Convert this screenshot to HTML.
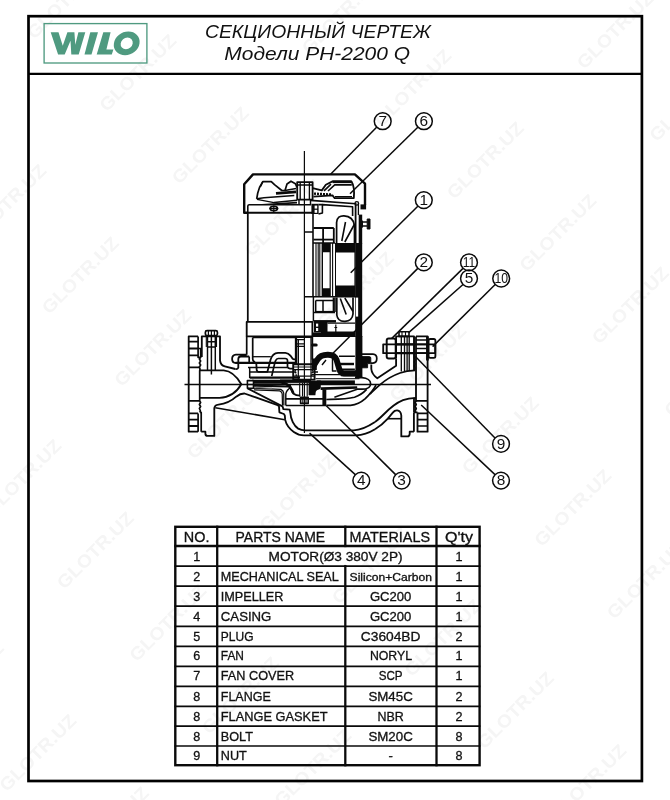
<!DOCTYPE html>
<html><head><meta charset="utf-8">
<style>
html,body{margin:0;padding:0;background:#fff;}
body{width:670px;height:800px;position:relative;overflow:hidden;font-family:"Liberation Sans",sans-serif;}
svg{position:absolute;left:0;top:0;}
svg text{font-family:"Liberation Sans",sans-serif;}
</style></head><body>
<svg width="670" height="800" viewBox="0 0 670 800" style="opacity:0.9999;will-change:transform">
<rect width="670" height="800" fill="#fff"/>
<g fill="#f5f5f5" font-weight="bold" font-size="18" text-anchor="middle" font-family="Liberation Sans, sans-serif">
<text transform="translate(65.0,0.0) rotate(-45)" x="0" y="6.4" textLength="100" lengthAdjust="spacingAndGlyphs">GLOTR.UZ</text>
<text transform="translate(267.5,-57.5) rotate(-45)" x="0" y="6.4" textLength="100" lengthAdjust="spacingAndGlyphs">GLOTR.UZ</text>
<text transform="translate(137.5,72.5) rotate(-45)" x="0" y="6.4" textLength="100" lengthAdjust="spacingAndGlyphs">GLOTR.UZ</text>
<text transform="translate(7.5,202.5) rotate(-45)" x="0" y="6.4" textLength="100" lengthAdjust="spacingAndGlyphs">GLOTR.UZ</text>
<text transform="translate(340.0,15.0) rotate(-45)" x="0" y="6.4" textLength="100" lengthAdjust="spacingAndGlyphs">GLOTR.UZ</text>
<text transform="translate(210.0,145.0) rotate(-45)" x="0" y="6.4" textLength="100" lengthAdjust="spacingAndGlyphs">GLOTR.UZ</text>
<text transform="translate(80.0,275.0) rotate(-45)" x="0" y="6.4" textLength="100" lengthAdjust="spacingAndGlyphs">GLOTR.UZ</text>
<text transform="translate(-50.0,405.0) rotate(-45)" x="0" y="6.4" textLength="100" lengthAdjust="spacingAndGlyphs">GLOTR.UZ</text>
<text transform="translate(542.5,-42.5) rotate(-45)" x="0" y="6.4" textLength="100" lengthAdjust="spacingAndGlyphs">GLOTR.UZ</text>
<text transform="translate(412.5,87.5) rotate(-45)" x="0" y="6.4" textLength="100" lengthAdjust="spacingAndGlyphs">GLOTR.UZ</text>
<text transform="translate(282.5,217.5) rotate(-45)" x="0" y="6.4" textLength="100" lengthAdjust="spacingAndGlyphs">GLOTR.UZ</text>
<text transform="translate(152.5,347.5) rotate(-45)" x="0" y="6.4" textLength="100" lengthAdjust="spacingAndGlyphs">GLOTR.UZ</text>
<text transform="translate(22.5,477.5) rotate(-45)" x="0" y="6.4" textLength="100" lengthAdjust="spacingAndGlyphs">GLOTR.UZ</text>
<text transform="translate(615.0,30.0) rotate(-45)" x="0" y="6.4" textLength="100" lengthAdjust="spacingAndGlyphs">GLOTR.UZ</text>
<text transform="translate(485.0,160.0) rotate(-45)" x="0" y="6.4" textLength="100" lengthAdjust="spacingAndGlyphs">GLOTR.UZ</text>
<text transform="translate(355.0,290.0) rotate(-45)" x="0" y="6.4" textLength="100" lengthAdjust="spacingAndGlyphs">GLOTR.UZ</text>
<text transform="translate(225.0,420.0) rotate(-45)" x="0" y="6.4" textLength="100" lengthAdjust="spacingAndGlyphs">GLOTR.UZ</text>
<text transform="translate(95.0,550.0) rotate(-45)" x="0" y="6.4" textLength="100" lengthAdjust="spacingAndGlyphs">GLOTR.UZ</text>
<text transform="translate(-35.0,680.0) rotate(-45)" x="0" y="6.4" textLength="100" lengthAdjust="spacingAndGlyphs">GLOTR.UZ</text>
<text transform="translate(687.5,102.5) rotate(-45)" x="0" y="6.4" textLength="100" lengthAdjust="spacingAndGlyphs">GLOTR.UZ</text>
<text transform="translate(557.5,232.5) rotate(-45)" x="0" y="6.4" textLength="100" lengthAdjust="spacingAndGlyphs">GLOTR.UZ</text>
<text transform="translate(427.5,362.5) rotate(-45)" x="0" y="6.4" textLength="100" lengthAdjust="spacingAndGlyphs">GLOTR.UZ</text>
<text transform="translate(297.5,492.5) rotate(-45)" x="0" y="6.4" textLength="100" lengthAdjust="spacingAndGlyphs">GLOTR.UZ</text>
<text transform="translate(167.5,622.5) rotate(-45)" x="0" y="6.4" textLength="100" lengthAdjust="spacingAndGlyphs">GLOTR.UZ</text>
<text transform="translate(37.5,752.5) rotate(-45)" x="0" y="6.4" textLength="100" lengthAdjust="spacingAndGlyphs">GLOTR.UZ</text>
<text transform="translate(630.0,305.0) rotate(-45)" x="0" y="6.4" textLength="100" lengthAdjust="spacingAndGlyphs">GLOTR.UZ</text>
<text transform="translate(500.0,435.0) rotate(-45)" x="0" y="6.4" textLength="100" lengthAdjust="spacingAndGlyphs">GLOTR.UZ</text>
<text transform="translate(370.0,565.0) rotate(-45)" x="0" y="6.4" textLength="100" lengthAdjust="spacingAndGlyphs">GLOTR.UZ</text>
<text transform="translate(240.0,695.0) rotate(-45)" x="0" y="6.4" textLength="100" lengthAdjust="spacingAndGlyphs">GLOTR.UZ</text>
<text transform="translate(110.0,825.0) rotate(-45)" x="0" y="6.4" textLength="100" lengthAdjust="spacingAndGlyphs">GLOTR.UZ</text>
<text transform="translate(702.5,377.5) rotate(-45)" x="0" y="6.4" textLength="100" lengthAdjust="spacingAndGlyphs">GLOTR.UZ</text>
<text transform="translate(572.5,507.5) rotate(-45)" x="0" y="6.4" textLength="100" lengthAdjust="spacingAndGlyphs">GLOTR.UZ</text>
<text transform="translate(442.5,637.5) rotate(-45)" x="0" y="6.4" textLength="100" lengthAdjust="spacingAndGlyphs">GLOTR.UZ</text>
<text transform="translate(312.5,767.5) rotate(-45)" x="0" y="6.4" textLength="100" lengthAdjust="spacingAndGlyphs">GLOTR.UZ</text>
<text transform="translate(645.0,580.0) rotate(-45)" x="0" y="6.4" textLength="100" lengthAdjust="spacingAndGlyphs">GLOTR.UZ</text>
<text transform="translate(515.0,710.0) rotate(-45)" x="0" y="6.4" textLength="100" lengthAdjust="spacingAndGlyphs">GLOTR.UZ</text>
<text transform="translate(385.0,840.0) rotate(-45)" x="0" y="6.4" textLength="100" lengthAdjust="spacingAndGlyphs">GLOTR.UZ</text>
<text transform="translate(717.5,652.5) rotate(-45)" x="0" y="6.4" textLength="100" lengthAdjust="spacingAndGlyphs">GLOTR.UZ</text>
<text transform="translate(587.5,782.5) rotate(-45)" x="0" y="6.4" textLength="100" lengthAdjust="spacingAndGlyphs">GLOTR.UZ</text>
<text transform="translate(660.0,855.0) rotate(-45)" x="0" y="6.4" textLength="100" lengthAdjust="spacingAndGlyphs">GLOTR.UZ</text>
</g>
<!-- frame -->
<g fill="none" stroke="#000">
<rect x="28.5" y="16.2" width="613.4" height="764.8" stroke-width="2.7"/>
<line x1="28.5" y1="73.9" x2="641.9" y2="73.9" stroke-width="2.2"/>
</g>
<!-- logo -->
<rect x="44.1" y="23.6" width="102.8" height="39.4" fill="none" stroke="#4f9a80" stroke-width="1.35"/>
<g fill="#4f9a80">
<path d="M50.7,32.3 L58.5,32.3 L62.75,45.7 L67.4,32.3 L74.4,32.3 L75.3,44.7 L78.4,32.3 L85.3,32.3 L78.7,54.4 L71.3,54.4 L70.5,40.8 L64.7,54.4 L58.1,54.4 Z"/>
<path d="M90.3,32.3 L98.0,32.3 L91.5,54.4 L84.5,54.4 Z"/>
<path d="M103.3,32.3 L110.6,32.3 L106.4,49.4 L113.4,49.4 L111.8,54.4 L96.7,54.4 Z"/>
<path fill-rule="evenodd" transform="translate(126.7,43.4) skewX(-8)" d="M-12.8,0 A12.8,11.8 0 1 0 12.8,0 A12.8,11.8 0 1 0 -12.8,0 Z M-6,0 A6,5.8 0 1 1 6,0 A6,5.8 0 1 1 -6,0 Z"/>
</g>
<!-- title -->
<g fill="#111" font-style="italic" font-size="17.6">
<text x="205" y="38.1" textLength="225.7" lengthAdjust="spacingAndGlyphs">СЕКЦИОННЫЙ ЧЕРТЕЖ</text>
<text x="224.3" y="59.8" textLength="185.7" lengthAdjust="spacingAndGlyphs">Модели PH-2200 Q</text>
</g>
<!-- drawing -->
<g id="drw" fill="none" stroke="#0a0a0a" stroke-width="1.59" stroke-linejoin="round" stroke-linecap="butt">
<!-- center lines -->
<line x1="304.4" y1="151" x2="304.4" y2="433" stroke-width="1.22"/>
<line x1="184.5" y1="384.5" x2="431" y2="384.5" stroke-width="1.34"/>

<!-- FAN COVER -->
<path d="M248,212.8 L244.2,212.8 L244.2,184.2 L253,174.4 L354.9,174.4 L365,183.7 L365,205" stroke-width="2.4"/>
<rect x="360.5" y="204.4" width="5.6" height="5" fill="#0a0a0a" stroke="none"/>

<!-- motor end cap left -->
<path d="M247.8,213 V206 C247.9,205.2 248.4,204.8 249.2,204.8 H262 L297,202.6 M262,204.8 H311" stroke-width="1.6"/>
<path d="M247.6,212.8 H313" stroke-width="2"/>
<ellipse cx="273.8" cy="208.5" rx="3.7" ry="2.2" stroke-width="1.7"/>
<path d="M269.4,208.5 H278.2 M273.8,205.4 V212.4" stroke-width="1.2"/>

<!-- left fan blade -->
<path d="M256.7,198.8 C257.5,193 258.5,190 259.5,187.5 L262.8,181.6 L271.3,181.6 L274.5,184.7 L281.8,190.5 L285,190.5 L287,184 L291,181.2 L295.4,183.7 L297,187.3" stroke-width="1.71"/>
<path d="M256.7,198.8 L264,197.8 L294.3,195.6 M257,199.4 L274,202.6 L297,200.2 M262.8,181.6 L260.5,186.5 M285,190.5 L296,188.5" stroke-width="1.46"/>
<path d="M276,193.3 L296,191.8" stroke-width="2.68"/>
<!-- hub -->
<rect x="297.2" y="182.2" width="15.4" height="17.4" stroke-width="1.83"/>
<path d="M300.2,182.2 V199.6 M309.4,182.2 V199.6 M297.2,185 H312.6" stroke-width="1.34"/>
<path d="M299,199.6 V204.6 M310.5,199.6 V204.6" stroke-width="1.46"/>

<!-- right fan blade -->
<path d="M312.6,188.2 L321.8,190.4 L325.8,184.8 L332.5,181.4 L351.5,181.4 C353.8,185 354.6,190 353.8,198.2 L334.7,198.2 L332.5,195.4 L313.4,196.6" stroke-width="1.83"/>
<path d="M328,191 L334.7,184.9 L351.8,184.9 M324,190.8 L331,184.2" stroke-width="1.59"/>
<path d="M332.5,181.8 L351.5,181.8" stroke-width="2.68"/>
<path d="M314,193.6 L332,194.6" stroke-width="2.44" stroke-dasharray="2 1"/>
<path d="M335,196.6 L352,196.6" stroke-width="1.22"/>

<!-- end bracket right -->
<path d="M310.6,200.4 L356,203.8 M322.4,204.6 L352.6,206.8 L352.6,216 M318.5,204.6 L322.4,204.6 L322.4,213 L318.5,214" stroke-width="1.59"/>
<!-- bearing -->
<rect x="311.4" y="203.8" width="7.2" height="10.2" fill="#0a0a0a" stroke="none"/>
<rect x="314.6" y="205.6" width="2.6" height="3" fill="#fff" stroke="none"/>
<rect x="314.6" y="209.8" width="2.6" height="3" fill="#fff" stroke="none"/>

<!-- right wall of motor -->
<path d="M355.6,202.8 V243" stroke-width="1.8"/>
<path d="M358.4,203.4 V215" stroke-width="1.3"/>
<circle cx="356.8" cy="203.4" r="1.8" stroke-width="1.34"/>
<rect x="358.7" y="214.6" width="3.5" height="29" fill="#0a0a0a" stroke="none"/>
<rect x="355.2" y="243" width="7" height="94" fill="#0a0a0a" stroke="none"/>
<!-- bolt right -->
<path d="M361.8,222 H367.2 M361.8,226 H367.2" stroke-width="1.46"/>
<rect x="367.2" y="219" width="2.8" height="10" fill="#0a0a0a" stroke-width="0.98"/>
<path d="M361.8,220.6 V227.6" stroke-width="2.44"/>

<!-- motor body left -->
<path d="M247.8,213 V321.9" stroke-width="1.75"/>
<rect x="246.7" y="321.9" width="65.7" height="14.4" stroke-width="1.83"/>
<!-- shaft lines -->
<path d="M313,213 V296.8 M304.4,232 H313 M304.4,296.8 H313" stroke-width="1.59"/>
<!-- upper box -->
<path d="M313.4,228 H333.8 M323.1,228 V243 M333.8,228 V243" stroke-width="1.8"/>
<path d="M313.4,239.6 H333.8" stroke-width="1.8"/>
<!-- capacitor top -->
<path d="M336.6,243 V222.5 C336.8,217.5 340,215.6 344,215.8 C349.5,216 353.5,219 354.5,225.5 V243" stroke-width="1.71"/>
<path d="M345.5,222 L341.8,241 M354.3,224.5 L344.8,242" stroke-width="1.59"/>
<!-- stator / rotor -->
<path fill="#0a0a0a" stroke="none" fill-rule="evenodd" d="M335,243 H355.5 V296.7 H335 Z M336,252.6 H354.4 V285.5 H336 Z"/>
<path fill="#0a0a0a" stroke="none" fill-rule="evenodd" d="M321.6,243 H330.8 V296.7 H321.6 Z M323,252.2 H329.6 V288.2 H323 Z"/>
<path d="M316,243 V296.7 M318.2,243 V296.7 M319.8,243 V296.7 M332.6,243 V296.7" stroke-width="1.10"/>
<path d="M313,243 H335 M313,296.8 H357" stroke-width="1.46"/>
<!-- lower box -->
<path d="M315.7,300.4 V311.9 M323,300.4 V311.9 M315.7,300.4 H333.4 M333.4,297.5 V311.9 M335,297.5 V311.9" stroke-width="1.5"/>
<path d="M315.7,311.9 H334.6" stroke-width="2"/>
<path d="M313.4,296.8 V321 M313.4,312.4 H335" stroke-width="1.46"/>
<!-- lower winding end -->
<path d="M336.8,297.5 V315 C337.5,320 341,321.6 345,321.4 C350,321 352.6,318 353,314 V297.5" stroke-width="1.71"/>
<path d="M340.3,298.5 L346.2,314.5 M344.8,298 L353,311.5" stroke-width="1.59"/>
<path d="M357,297.6 V316.6" stroke="#fff" stroke-width="2.3"/>
<!-- bottom of motor (right, sectioned) -->
<path d="M313.4,321.3 H336 " stroke-width="2.44"/>
<rect x="314" y="322" width="7" height="10.5" fill="#0a0a0a" stroke="none"/>
<rect x="316" y="323.6" width="2.2" height="3" fill="#fff" stroke="none"/>
<rect x="316" y="328" width="2.2" height="3" fill="#fff" stroke="none"/>
<path fill="#0a0a0a" stroke="none" d="M321,322 H327.5 V331.5 H355.2 V337 H313 V332.5 H321 Z"/>
<path d="M327.5,323.2 H355.2 M335.8,324.5 V335.5 M334.4,327.5 H337.2" stroke-width="1.22"/>

<!-- ============ PUMP ============ -->
<!-- left counter flange -->
<path d="M198.1,336.4 H188.7 V431.7 H198.1 M188.7,341.7 H198.1 M188.7,348.5 H198.1 M188.7,355.3 H198.1 M188.7,367.3 H199.7 M188.7,400.9 H199.7 M188.7,413.4 H198.1 M188.7,419.7 H198.1 M188.7,426 H198.1" stroke-width="1.83"/>
<path d="M198.1,336.4 V348.5 H200.7 V357.3 L199.4,359 L200.6,361 L199.4,363 L200.6,365 L199.4,367 L200,369 L199.7,371 V400.9 L200.6,402.5 L199.4,404.5 L200.6,406.5 L199.4,408.5 L200.3,410.5 L199.9,412.4 M198.1,348.5 V357.3 H200.7 M198.1,431.7 V413.4 M199.9,412.4 H201.2 V431.7" stroke-width="1.71"/>
<!-- left pump flange -->
<path d="M201.8,357 V336.4 H220 V360.5 C220.5,364 222.5,365.8 224.8,366.4 L235.3,369" stroke-width="1.83"/>
<!-- bolt top-left -->
<rect x="205.4" y="330.6" width="12" height="5" rx="1.6" stroke-width="1.71"/>
<path d="M208.4,330.8 V335.4 M211.4,330.8 V335.4 M214.4,330.8 V335.4" stroke-width="1.22"/>
<path d="M207.5,336.4 V370 M215.3,336.4 V370 M211.4,336.4 V374.6 M207.5,341.7 H215.3 M207.5,346.9 H215.3" stroke-width="1.46"/>
<path d="M206.3,336.4 V347 M216.5,336.4 V347" stroke-width="1.10"/>
<!-- inlet bore -->
<path d="M200,370.4 H223.7 C229,370.8 236,375 241.3,384.3 C236,393.5 229,397.6 219.5,397.8 H200" stroke-width="1.83"/>
<!-- left flange bottom + outer wall -->
<path d="M201.2,431.7 H205.4 V434 C205.6,435.4 206.4,435.9 207.5,435.9 H214.3 V408.2 C214.6,405.8 216.4,404.8 218.5,404.6 C224,404 231,401.5 236.2,396.7 C239.5,394 241.5,393.4 244.5,393.5 L277.6,405.1 L279,406.4 L279.4,412.3 L283.9,414 L284.8,415.4 L285.2,419.9 C286,423.5 289,428.5 293.8,432 C297,434.3 300,435.4 304,435.4 H356 C362,435.2 369,433 375,429.3" stroke-width="1.83"/>
<path d="M215.3,407.7 L284.8,419.7" stroke-width="1.59"/>
<!-- inner volute left -->
<path d="M247.6,388.4 L282.5,406.4 L283.4,409.1 L289.7,409.6 L290.4,413 C290.6,419 294,426 298.2,428.6 C300.5,429.9 302.5,430.3 305,430.3 H353.7 C361,430 368,426.5 375,421.9" stroke-width="1.83"/>
<path d="M253.5,388.2 L280.8,389.4 C282.8,390.4 283.6,391.5 283.7,393 L283.9,405.5 M254,389.8 L279.7,390.9 C281.5,391.6 282.1,392.6 282.2,393.9 L282.5,405.5" stroke-width="1.22"/>
<path d="M285.8,405.5 V394 C286.2,391.5 288,389 291,387.6" stroke-width="1.46"/>
<path d="M285.8,398.8 H326 M285.8,405.5 H326" stroke-width="1.71"/>
<!-- lip left -->
<path d="M246.7,354.7 H236 C233.2,354.9 232.1,356.4 232.1,358.9 C232.1,361.6 233.2,362.9 236,363 M238.3,367.9 V359 C238.4,357.2 239.2,356.5 240.8,356.5 H249.2" stroke-width="1.8"/>
<path d="M238.3,367.9 C237.8,369 236.6,369.2 235.3,369" stroke-width="1.7"/>
<!-- bracket legs left -->
<path d="M246.7,336.3 V354.7 M252.7,337.5 V359 C252.8,361 253.5,361.8 255.2,361.9 M249.2,356.5 V362.7 M252.7,337.5 H295.7 V362" stroke-width="1.7"/>
<!-- arch -->
<path d="M256.3,363.5 L256.7,370.2 C256.9,371.4 257.5,371.8 258.6,371.8 H267.4 L270.6,359.6 C271.5,356.5 273.6,353 278,352.8 H285.4 C288.4,353 289.6,354.6 290.7,356 L292.6,358.6 C293,359.1 293.6,359.3 294.4,359.3 H295.7" stroke-width="1.8"/>
<path d="M271.7,376.1 L274.9,362.5 L275.6,360.6 C276.2,359.2 276.8,358.5 278.2,358.5 H285 C286.8,358.6 287.5,359.4 287.5,360.6 V366.8 C287.8,368 288.6,368.5 290,368.6 H293" stroke-width="1.7"/>
<!-- cover horizontals left -->
<path d="M235.6,362.9 H296" stroke-width="2.1"/>
<path d="M248,367.5 H287.5 M250.3,372.1 H296 M249.7,367.5 V378" stroke-width="1.5"/>
<path d="M249.7,377.7 H300" stroke-width="2.2"/>
<path d="M252,380.4 H296" stroke-width="1.3"/>
<path d="M252.7,356.7 H270.8" stroke-width="1.3"/>
<!-- wear ring + impeller left -->
<rect x="247.4" y="380.6" width="6.1" height="7.6" stroke-width="1.59"/>
<path d="M247.4,384.5 H253.5" stroke-width="1.22"/>
<path d="M254,382.4 H281 C285,383 288.5,385 290.5,387.6 C292,389.6 292.6,391.5 293.3,393.2" stroke-width="2.6"/>
<path d="M289.6,384 C290.6,388 291.8,391.8 293.6,393.8 C295.4,395.3 297.6,395.6 300.2,395.6" stroke-width="1.8"/>
<path d="M254,385.6 L288.8,386.5" stroke-width="2.20"/>
<path d="M256,387.4 L272,388.4" stroke="#777" stroke-width="1.22"/>
<!-- shaft sleeve left -->
<path d="M296.4,337 V364 M298.3,339.7 V364 M296.4,337.4 H312.4" stroke-width="1.4"/>
<!-- seal housing block left/center -->
<rect x="293.2" y="364.2" width="21.4" height="15.4" stroke-width="1.9"/>
<path d="M293.2,367 H314.6 M293.2,369.6 H314.6 M293.2,376.2 H314.6 M298.3,364 V380 M311,364 V380" stroke-width="1.2"/>
<path d="M295,369.5 L296.4,376 M312.8,369.5 L311.4,376" stroke-width="1.6" stroke-dasharray="1.5 1"/>
<path d="M280,381.2 H311" stroke-width="3.4"/>
<path d="M299.7,383 V396.5 M302.5,383 V396.5 M307.2,383 V396.5" stroke-width="1.1"/>
<path d="M296.4,339.7 H304.9 M296.4,343.9 H304.9 M296.4,346.3 H304.9" stroke-width="1.3"/>
<!-- nut bottom -->
<rect x="300.6" y="397.3" width="7.6" height="6.1" stroke-width="1.59"/>
<path d="M302.8,397.3 V403.4 M306,397.3 V403.4" stroke-width="1.10"/>

<!-- ===== central sectioned (right) ===== -->
<!-- right wall down to cover -->
<rect x="355.4" y="336" width="7" height="41" fill="#0a0a0a" stroke="none"/>
<path d="M362,356.6 H369.5 C370.4,356.7 370.8,357.2 370.8,358 V363.6 H367.6 V367.8 H362 Z" fill="#0a0a0a" stroke-width="0.9"/>
<path d="M362,354.2 H373 C375.6,354.4 376.8,356 376.8,358.6 C376.8,361.6 375.6,363 373,363.1 H371" stroke-width="1.71"/>
<!-- seal bold curve -->
<path d="M313.5,366 L317.5,359.5 C319.6,356 322.5,354.6 328,354.7 C332.5,354.7 335.2,356 336.6,360 L339.4,369.5 C340.2,372.2 341.5,373.4 344,373.5 L358.5,373.6" stroke-width="6"/>
<path d="M339.5,370.6 H360.5 V376.3 H341 Z" fill="#0a0a0a" stroke="none"/>
<rect x="311.8" y="358.5" width="5" height="11.5" fill="#0a0a0a" stroke="none"/>
<path d="M339,356.2 H354.9 M339.5,363.8 H354 M341,369.2 H354.9" stroke-width="1.59"/>
<path d="M339.5,364 H354" stroke-width="2.44"/>
<path d="M312.3,359.6 V336.6" stroke-width="1.83"/>
<path d="M322,365 L326,360 M332.5,358 V371 H336.5" stroke-width="1.46"/>
<path d="M312.5,345 H316.2" stroke-width="3" stroke-linecap="round"/>
<!-- lines under seal -->
<path d="M315.5,378.7 H359.5" stroke="#333" stroke-width="1.3"/>
<path d="M312,372 H318 M312,374.6 H340" stroke-width="1.4"/>
<rect x="316.8" y="380.4" width="38.1" height="4.5" fill="#0a0a0a" stroke="none"/>
<path d="M308.6,380.4 H320.8 V387.2 C320.6,388.6 319.6,389.4 318,389.8 C316.4,390.4 315.8,391.4 315.6,393 L315.4,395.2 H308.6 Z" fill="#0a0a0a" stroke="none"/>
<path d="M311,337 V364" stroke-width="1.3"/>
<path d="M320.6,388.7 L357.2,387.5" stroke-width="2.7"/>
<rect x="322.4" y="389.4" width="3.9" height="16.3" fill="#0a0a0a" stroke="none"/>
<!-- volute right -->
<path d="M326.3,399.5 L330.3,399.3 C340,399.2 348,399 354.5,397.2 C359.5,395.5 363.5,392.8 366.6,389.4" stroke-width="1.7"/>
<path d="M326.3,405.3 H350.5 C357,404.6 361.5,402 365.3,398.6 C370,394 373.5,389.8 376,385.1" stroke-width="1.8"/>
<path d="M334.4,397.2 L357.2,389.2" stroke-width="1.6"/>
<!-- volute lip (round end) -->
<path d="M355,377.7 H362 C367.5,378 370.6,380.5 370.6,383.4 C370.6,386.8 367.5,389.2 362,389.2 H357" stroke-width="1.7"/>
<!-- right neck -->
<path d="M371.3,364.6 V369 C371.6,372.5 373.5,375.5 377.3,378.2 L396.1,365.7 V358.4" stroke-width="1.83"/>
<!-- outlet bore -->
<path d="M415,370.4 C409,370.6 404.5,371.4 400,373 C393,375.5 386,379.5 380.4,384.4 C377,387.4 373.5,390.5 370,394" stroke-width="1.83"/>
<path d="M416,397.8 C411,398 407,398.6 403,400.2 C396,403 390,408 383.6,414.5 C380,418 377.5,420.3 375,421.9" stroke-width="1.83"/>
<!-- right outer wall bottom -->
<path d="M413.9,431.7 H409.7 V433.8 C409.5,435.6 408.8,436.4 407.6,436.4 H401.3 V415.5 C401,412.5 399.8,410.6 397.2,410.3 C395.2,410.2 394,411 393,412.4 L387.8,418.7 C383.5,423.5 379,427 375,429.3" stroke-width="1.83"/>
<path d="M387.8,418.7 H401.3" stroke-width="1.59"/>
<!-- right pump flange -->
<path d="M396.1,358.4 V336.4 H414 V370.4 M414,397.8 V412.4" stroke-width="1.83"/>
<path d="M401.3,336.4 V371.5 M404.5,336.4 V371 M407.1,336.4 V370.8 M409.2,336.4 V370.6" stroke-width="1.34"/>
<rect x="399" y="331.7" width="10" height="4.7" stroke-width="1.59"/>
<path d="M402,331.7 V336.4 M405.5,331.7 V336.4" stroke-width="1.10"/>
<!-- right counter flange -->
<path d="M416,336.4 H427.6 V431.7 H417.5 V412.4 M416,336.4 V400.9 L415,402.5 L416.2,404.5 L415,406.5 L416.2,408.5 L415.2,410.5 L415.6,412.4 H417.5 M413.9,412.4 V431.7 M413.9,412.4 H415.6" stroke-width="1.83"/>
<path d="M427.4,336.4 V360.5" stroke-width="2.68"/>
<path d="M416,340 H427.6 M416,344.3 H427.6 M416,348.5 H427.6 M416,353.2 H427.6 M416,400.9 H427.6 M417.5,413.4 H427.6 M417.5,419.7 H427.6 M417.5,426 H427.6" stroke-width="1.71"/>
<path d="M414.2,336.4 V358 L415.2,360 L414.2,362 L415.2,364 L414.2,366 L415,368 L414.6,370.4" stroke-width="1.22"/>
<!-- horizontal bolt -->
<rect x="383.2" y="344.3" width="52" height="8.9" stroke-width="1.83"/>
<rect x="386.7" y="338.5" width="9" height="19.9" rx="2" stroke-width="1.95"/>
<rect x="428.6" y="339" width="6.8" height="18.9" rx="1.6" stroke-width="1.83"/>
<path d="M396,344.3 H414 M396,353.2 H414" stroke-width="2.20"/>

<!-- ===== leaders & balloons ===== -->
<g stroke-width="1.5">
<line x1="376.6" y1="127.2" x2="330.6" y2="174.2"/>
<line x1="417.8" y1="127.2" x2="350" y2="193.8"/>
<line x1="417.8" y1="206.2" x2="350.7" y2="272.8"/>
<line x1="417.8" y1="268.4" x2="330.5" y2="355.7"/>
<line x1="463" y1="268.4" x2="391.8" y2="338.4"/>
<line x1="463" y1="284.5" x2="408.7" y2="332.6"/>
<line x1="495.2" y1="284.5" x2="432.6" y2="346.6"/>
<line x1="495" y1="437.9" x2="415.4" y2="356.4"/>
<line x1="495" y1="474.6" x2="421.2" y2="405"/>
<line x1="395.6" y1="474.6" x2="326.3" y2="405.7"/>
<line x1="355.3" y1="474.6" x2="309.5" y2="433.1"/>
</g>
<g stroke-width="1.5" fill="none">
<circle cx="382.7" cy="121.2" r="8.4"/><circle cx="423.9" cy="121.2" r="8.4"/>
<circle cx="423.8" cy="200.1" r="8.4"/><circle cx="423.8" cy="262.4" r="8.4"/>
<circle cx="469" cy="262.4" r="8.4"/><circle cx="469" cy="278.5" r="8.4"/><circle cx="501.2" cy="278.5" r="8.4"/>
<circle cx="501" cy="443.9" r="8.4"/><circle cx="501" cy="480.6" r="8.4"/>
<circle cx="361.3" cy="480.6" r="8.4"/><circle cx="401.6" cy="480.6" r="8.4"/>
</g>
<g fill="#111" stroke="none" font-size="15.4" text-anchor="middle" font-family="Liberation Sans, sans-serif">
<text x="382.7" y="125.8">7</text>
<text x="423.9" y="125.8">6</text>
<text x="423.8" y="204.7">1</text>
<text x="423.8" y="267.0">2</text>
<text x="469" y="267.0" textLength="12.6" lengthAdjust="spacingAndGlyphs">11</text>
<text x="469" y="283.1">5</text>
<text x="501.2" y="283.1" textLength="13.6" lengthAdjust="spacingAndGlyphs">10</text>
<text x="501" y="448.5">9</text>
<text x="501" y="485.2">8</text>
<text x="361.3" y="485.2">4</text>
<text x="401.6" y="485.2">3</text>
</g>
</g>

<!-- table -->
<g stroke="#0a0a0a" fill="none" stroke-linecap="square">
<rect x="175.3" y="526.8" width="304.3" height="238.4000000000001" stroke-width="2.4"/>
<line x1="175.3" y1="546" x2="479.6" y2="546" stroke-width="2.3"/>
<line x1="175.3" y1="566.1" x2="479.6" y2="566.1" stroke-width="1.7"/>
<line x1="175.3" y1="586.1" x2="479.6" y2="586.1" stroke-width="1.7"/>
<line x1="175.3" y1="606.2" x2="479.6" y2="606.2" stroke-width="1.7"/>
<line x1="175.3" y1="626.3" x2="479.6" y2="626.3" stroke-width="1.7"/>
<line x1="175.3" y1="646.3" x2="479.6" y2="646.3" stroke-width="1.7"/>
<line x1="175.3" y1="666.4" x2="479.6" y2="666.4" stroke-width="1.7"/>
<line x1="175.3" y1="686.4" x2="479.6" y2="686.4" stroke-width="1.7"/>
<line x1="175.3" y1="706.4" x2="479.6" y2="706.4" stroke-width="1.7"/>
<line x1="175.3" y1="726.2" x2="479.6" y2="726.2" stroke-width="1.7"/>
<line x1="175.3" y1="746.0" x2="479.6" y2="746.0" stroke-width="1.7"/>
<line x1="217.2" y1="526.8" x2="217.2" y2="765.2" stroke-width="2.3"/>
<line x1="436.5" y1="526.8" x2="436.5" y2="765.2" stroke-width="2.3"/>
<line x1="345.3" y1="526.8" x2="345.3" y2="546" stroke-width="2.3"/>
<line x1="345.3" y1="566.1" x2="345.3" y2="765.2" stroke-width="2.3"/>
</g>
<g fill="#111" stroke="#111" stroke-width="0.3" font-family="Liberation Sans, sans-serif">
<text x="183.8" y="541.7" font-size="14" textLength="25.6" lengthAdjust="spacingAndGlyphs">NO.</text>
<text x="235.6" y="541.7" font-size="14" textLength="89.5" lengthAdjust="spacingAndGlyphs">PARTS NAME</text>
<text x="349.6" y="541.7" font-size="14" textLength="80.4" lengthAdjust="spacingAndGlyphs">MATERIALS</text>
<text x="445.0" y="541.7" font-size="14" textLength="28.0" lengthAdjust="spacingAndGlyphs">Q'ty</text>
<text x="196.7" y="560.9" font-size="12.6" text-anchor="middle">1</text>
<text x="459.1" y="560.9" font-size="12.6" text-anchor="middle">1</text>
<text x="196.7" y="581" font-size="12.6" text-anchor="middle">2</text>
<text x="459.1" y="581" font-size="12.6" text-anchor="middle">1</text>
<text x="220.8" y="581.0" font-size="12.4" textLength="118.0" lengthAdjust="spacingAndGlyphs">MECHANICAL SEAL</text>
<text x="349.6" y="581.0" font-size="10.4" textLength="82.4" lengthAdjust="spacingAndGlyphs">Silicon+Carbon</text>
<text x="196.7" y="600.8" font-size="12.6" text-anchor="middle">3</text>
<text x="459.1" y="600.8" font-size="12.6" text-anchor="middle">1</text>
<text x="220.8" y="600.8" font-size="12.4" textLength="62.6" lengthAdjust="spacingAndGlyphs">IMPELLER</text>
<text x="369.9" y="600.8" font-size="12.4" textLength="41.5" lengthAdjust="spacingAndGlyphs">GC200</text>
<text x="196.7" y="620.8" font-size="12.6" text-anchor="middle">4</text>
<text x="459.1" y="620.8" font-size="12.6" text-anchor="middle">1</text>
<text x="220.8" y="620.8" font-size="12.4" textLength="50.6" lengthAdjust="spacingAndGlyphs">CASING</text>
<text x="369.9" y="620.8" font-size="12.4" textLength="41.5" lengthAdjust="spacingAndGlyphs">GC200</text>
<text x="196.7" y="640.6" font-size="12.6" text-anchor="middle">5</text>
<text x="459.1" y="640.6" font-size="12.6" text-anchor="middle">2</text>
<text x="220.8" y="640.6" font-size="12.4" textLength="32.7" lengthAdjust="spacingAndGlyphs">PLUG</text>
<text x="360.8" y="640.6" font-size="12.4" textLength="59.7" lengthAdjust="spacingAndGlyphs">C3604BD</text>
<text x="196.7" y="660.4" font-size="12.6" text-anchor="middle">6</text>
<text x="459.1" y="660.4" font-size="12.6" text-anchor="middle">1</text>
<text x="220.8" y="660.4" font-size="12.4" textLength="23.2" lengthAdjust="spacingAndGlyphs">FAN</text>
<text x="369.9" y="660.4" font-size="12.4" textLength="42.2" lengthAdjust="spacingAndGlyphs">NORYL</text>
<text x="196.7" y="680.4" font-size="12.6" text-anchor="middle">7</text>
<text x="459.1" y="680.4" font-size="12.6" text-anchor="middle">1</text>
<text x="220.8" y="680.4" font-size="12.4" textLength="73.3" lengthAdjust="spacingAndGlyphs">FAN COVER</text>
<text x="378.7" y="680.4" font-size="12.4" textLength="23.9" lengthAdjust="spacingAndGlyphs">SCP</text>
<text x="196.7" y="700.5" font-size="12.6" text-anchor="middle">8</text>
<text x="459.1" y="700.5" font-size="12.6" text-anchor="middle">2</text>
<text x="220.8" y="700.5" font-size="12.4" textLength="49.9" lengthAdjust="spacingAndGlyphs">FLANGE</text>
<text x="368.4" y="700.5" font-size="12.4" textLength="44.4" lengthAdjust="spacingAndGlyphs">SM45C</text>
<text x="196.7" y="720.8" font-size="12.6" text-anchor="middle">8</text>
<text x="459.1" y="720.8" font-size="12.6" text-anchor="middle">2</text>
<text x="220.8" y="720.8" font-size="12.4" textLength="106.7" lengthAdjust="spacingAndGlyphs">FLANGE GASKET</text>
<text x="377.5" y="720.8" font-size="12.4" textLength="26.3" lengthAdjust="spacingAndGlyphs">NBR</text>
<text x="196.7" y="740.6" font-size="12.6" text-anchor="middle">8</text>
<text x="459.1" y="740.6" font-size="12.6" text-anchor="middle">8</text>
<text x="220.8" y="740.6" font-size="12.4" textLength="32.2" lengthAdjust="spacingAndGlyphs">BOLT</text>
<text x="368.4" y="740.6" font-size="12.4" textLength="44.4" lengthAdjust="spacingAndGlyphs">SM20C</text>
<text x="196.7" y="760.2" font-size="12.6" text-anchor="middle">9</text>
<text x="459.1" y="760.2" font-size="12.6" text-anchor="middle">8</text>
<text x="220.8" y="760.2" font-size="12.4" textLength="26.0" lengthAdjust="spacingAndGlyphs">NUT</text>
<text x="388.4" y="760.2" font-size="12.4" textLength="4.4" lengthAdjust="spacingAndGlyphs">-</text>
<text x="268.6" y="560.9" font-size="12.4" textLength="134.0" lengthAdjust="spacingAndGlyphs">MOTOR(Ø3 380V 2P)</text>
</g>
</svg>
</body></html>
